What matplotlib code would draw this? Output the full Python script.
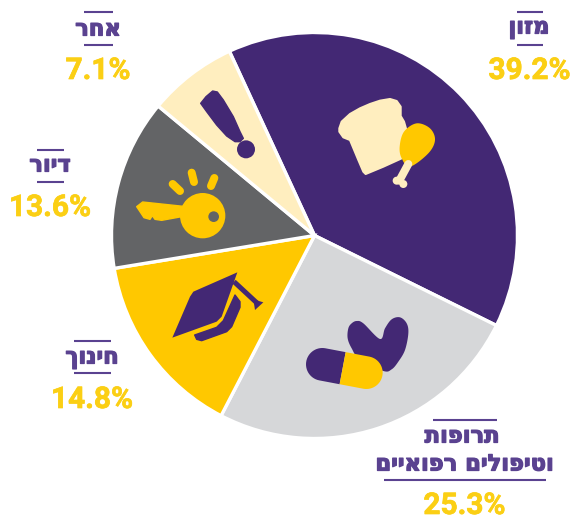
import numpy as np
import matplotlib
matplotlib.use("Agg")
import matplotlib.pyplot as plt
import matplotlib.patheffects as pe
from matplotlib.patches import Polygon, Circle
from matplotlib.lines import Line2D

# ---- data ----
categories = ["מזון", "תרופות\nוטיפולים רפואיים", "חינוך", "דיור", "אחר"]
values = [39.2, 25.3, 14.8, 13.6, 7.1]
value_labels = ["39.2%", "25.3%", "14.8%", "13.6%", "7.1%"]
slice_colors = ["#432874", "#d6d7d9", "#ffc800", "#636466", "#ffeebf"]

PURPLE = "#432874"
TEXT_PURPLE = "#5a4290"
YELLOW = "#ffc800"
PCT_YELLOW = "#fbcf14"
CREAM = "#ffeebf"
GREY = "#636466"

W, H = 574, 520
fig = plt.figure(figsize=(W / 100, H / 100), dpi=100)

cx, cy, r = 314.5, 235.5, 203
pie_ax = fig.add_axes([(cx - r) / W, 1 - (cy + r) / H, 2 * r / W, 2 * r / H])
pie_ax.pie(values, colors=slice_colors, startangle=114.8, counterclock=False, radius=1,
           wedgeprops=dict(edgecolor="white", linewidth=2.4))
pie_ax.set_xlim(-1, 1)
pie_ax.set_ylim(-1, 1)
pie_ax.axis("off")

ov = fig.add_axes([0, 0, 1, 1])
ov.set_xlim(0, W)
ov.set_ylim(H, 0)
ov.axis("off")
ov.patch.set_alpha(0)


def smooth(pts, n=12):
    p = np.array(pts, float)
    out = []
    m = len(p)
    for i in range(m):
        a, b, c, d = p[(i - 1) % m], p[i], p[(i + 1) % m], p[(i + 2) % m]
        for t in np.linspace(0, 1, n, endpoint=False):
            out.append(0.5 * ((2 * b) + (c - a) * t + (2 * a - 5 * b + 4 * c - d) * t ** 2
                              + (3 * b - a - 3 * c + d) * t ** 3))
    return np.array(out)


def z(pts, ox, oy):
    return [(ox + x / 3, oy + y / 3) for x, y in pts]


def blob(pts, ox, oy, color, curved=True, edge=0.0):
    q = z(pts, ox, oy)
    ov.add_patch(Polygon(smooth(q) if curved else q, closed=True, fc=color,
                         ec=color if edge else "none", lw=edge, joinstyle="round"))


def dot(x, y, rad, ox, oy, color):
    ov.add_patch(Circle((ox + x / 3, oy + y / 3), rad / 3, fc=color, ec="none"))


def stroke(p, q, w, ox, oy, color, cap="round"):
    ov.add_line(Line2D([ox + p[0] / 3, ox + q[0] / 3], [oy + p[1] / 3, oy + q[1] / 3],
                       color=color, lw=w / 3 * 0.72, solid_capstyle=cap))


# bread and drumstick
ox, oy = 330, 90
blob([(28, 115), (35, 95), (60, 72), (90, 55), (120, 42), (150, 32), (180, 27), (200, 33), (212, 50),
      (212, 78), (222, 95), (232, 130), (225, 200), (215, 205), (160, 230), (107, 252), (100, 245),
      (85, 210), (60, 150), (40, 142), (28, 125)], ox, oy, CREAM, curved=False, edge=1.5)
stroke((235, 222), (208, 272), 24, ox, oy, CREAM)
dot(200, 272, 12, ox, oy, CREAM)
dot(220, 282, 12, ox, oy, CREAM)
blob([(209, 170), (222, 125), (260, 100), (300, 115), (315, 150), (295, 190), (240, 230), (215, 205)],
     ox, oy, YELLOW)

# exclamation mark
ox, oy = 120, 80
blob([(242, 70), (258, 50), (278, 33), (292, 36), (310, 60), (340, 110), (360, 155), (370, 175),
      (360, 185), (345, 185), (320, 168), (290, 135), (260, 95)],
     ox, oy, PURPLE, curved=False, edge=1.0)
dot(378, 208, 27, ox, oy, PURPLE)

# key
blob([(50, 380), (68, 366), (190, 379), (185, 410), (125, 421), (105, 418), (97, 407), (90, 418), (72, 413)],
     ox, oy, YELLOW, curved=False, edge=1.0)
dot(248, 407, 68, ox, oy, YELLOW)
dot(281, 410, 16, ox, oy, GREY)
stroke((158, 312), (180, 333), 24, ox, oy, YELLOW)
stroke((215, 278), (222, 306), 24, ox, oy, YELLOW)
stroke((283, 294), (273, 318), 24, ox, oy, YELLOW)

# graduation cap
ox, oy = 160, 260
blob([(232, 37), (100, 95), (90, 110), (37, 233), (170, 185), (185, 170)], ox, oy, PURPLE, curved=False)
blob([(225, 105), (240, 125), (240, 142), (215, 200), (200, 215), (125, 242), (110, 238), (104, 225),
      (170, 202), (190, 182)], ox, oy, PURPLE, curved=False, edge=1.0)
stroke((222, 65), (292, 130), 15, ox, oy, PURPLE, cap="butt")
blob([(310, 127), (285, 150), (280, 118)], ox, oy, PURPLE, curved=False)

# pills
blob([(565, 205), (575, 190), (590, 183), (610, 190), (660, 237), (675, 205), (695, 178), (720, 172),
      (740, 190), (745, 220), (735, 270), (715, 305), (695, 328), (670, 333), (600, 300), (575, 265),
      (563, 235)], ox, oy, PURPLE)
a = np.array([487.0, 313.0]); b = np.array([619.0, 338.0])
d = (b - a) / np.linalg.norm(b - a); nrm = np.array([-d[1], d[0]])
rad = 49.0
theta = np.linspace(np.pi / 2, 3 * np.pi / 2, 30)
cap_l = [a + rad * (np.cos(t) * d + np.sin(t) * nrm) for t in theta]
cap_r = [b + rad * (np.cos(t) * d + np.sin(t) * nrm) for t in theta - np.pi]
mid = a + d * 62
left = [tuple(p) for p in cap_l] + [tuple(mid - rad * nrm), tuple(mid + rad * nrm)]
right = [tuple(mid + rad * nrm), tuple(mid - rad * nrm)] + [tuple(p) for p in cap_r]
ov.add_patch(Polygon(z(left, ox, oy), closed=True, fc=PURPLE, ec="none"))
ov.add_patch(Polygon(z(right, ox, oy), closed=True, fc=YELLOW, ec="none"))


def heb(s):
    return s[::-1]


HEB = dict(family="DejaVu Sans", weight="bold", color=TEXT_PURPLE, ha="center", va="center", fontsize=16.3,
           path_effects=[pe.withStroke(linewidth=0.9, foreground=TEXT_PURPLE)])
PCT = dict(family="Roboto", weight="bold", color=PCT_YELLOW, ha="center", va="center", fontsize=21.5,
           path_effects=[pe.withStroke(linewidth=0.5, foreground=PCT_YELLOW)])


def rule(x0, x1, y):
    ov.add_line(Line2D([x0, x1], [y, y], color=TEXT_PURPLE, lw=1.5, solid_capstyle="butt"))


# food
ov.text(529, 28, heb(categories[0]), **HEB)
rule(517, 543, 12); rule(517, 543, 44.5)
ov.text(529.5, 71, value_labels[0], **PCT)
# medicine
lines = categories[1].split("\n")
ov.text(462, 436, heb(lines[0]), **HEB)
ov.text(464.5, 464, heb(lines[1]), **HEB)
rule(433, 497, 420); rule(384, 546, 479.5)
ov.text(464.5, 506, value_labels[1], **PCT)
# education
ov.text(92, 358, heb(categories[2]), **HEB)
rule(74, 111, 341); rule(74, 111, 373)
ov.text(92, 400, value_labels[2], **PCT)
# housing
ov.text(50, 165, heb(categories[3]), **HEB)
rule(37, 64, 150); rule(37, 64, 182)
ov.text(50, 208, value_labels[3], **PCT)
# other
ov.text(98, 29, heb(categories[4]), **HEB)
rule(84, 113, 12); rule(84, 113, 44.5)
ov.text(98, 71, value_labels[4], **PCT)

fig.savefig("out.png", dpi=100, facecolor="white")
